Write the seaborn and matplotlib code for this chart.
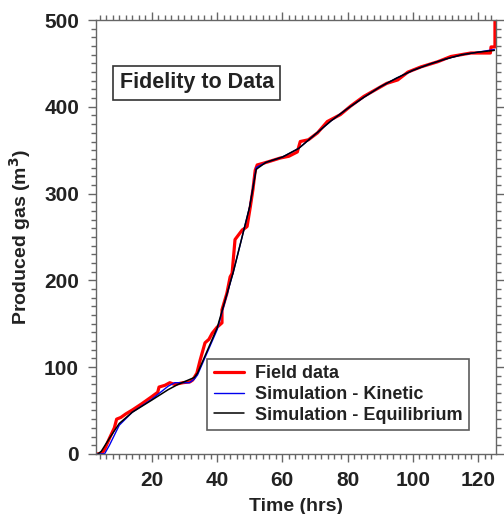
import numpy as np
import pandas as pd
import matplotlib
matplotlib.use('Agg')
import matplotlib.pyplot as plt
from matplotlib.ticker import MultipleLocator
import seaborn as sns

sns.set_style('ticks')
plt.rcParams['font.family'] = ['Liberation Sans', 'DejaVu Sans']
plt.rcParams['font.weight'] = 'bold'

# field data (red)
field_t = [2.8, 4.6, 5.5, 7.0, 8.5, 9.2, 10.5, 12.0, 14.2, 17.0, 20.0, 21.8, 22.2, 24.0,
           25.5, 27.0, 29.5, 31.7, 32.5, 33.8, 34.8, 35.7, 36.3, 37.5, 38.5, 40.0, 41.5,
           41.5, 43.0, 44.0, 44.6, 45.5, 47.7, 48.5, 49.2, 50.2, 51.0, 51.7, 52.3, 54.2,
           56.0, 59.4, 62.0, 64.6, 65.5, 68.0, 70.8, 73.8, 77.8, 81.0, 85.0, 89.2, 92.0,
           95.4, 98.5, 102.5, 107.7, 111.7, 117.8, 123.8, 124.0, 125.2, 125.2]
field_gas = [0, 0, 5, 18, 30, 40, 42, 46, 51, 58, 66, 71, 77, 79,
             82, 80, 82, 83, 85, 93, 108, 120, 128, 132, 139, 146, 151,
             166, 185, 204, 208, 247, 258, 260, 262, 285, 305, 327, 333, 335,
             337, 341, 343, 348, 360, 362, 370, 383, 391, 401, 412, 421, 427,
             431, 440, 446, 452, 458, 462, 462, 469, 469, 500]

# simulation - kinetic (blue)
kin_t = [2.8, 5.5, 7.0, 10.0, 14.0, 20.0, 25.0, 27.0, 31.5, 33.0, 34.0, 40.0, 45.0,
         50.0, 52.0, 55.0, 60.0, 65.0, 70.0, 75.0, 80.0, 85.0, 90.0, 95.0, 100.0,
         105.0, 110.0, 115.0, 120.0, 125.0]
kin_gas = [0, 0, 10, 33, 48, 63, 78, 82, 82, 86, 91, 143, 210,
           285, 330, 336, 342, 352, 368, 384, 398, 411, 423, 433, 442,
           449, 455, 460, 463, 466]

# simulation - equilibrium (black)
eq_t = [3.5, 4.5, 7.0, 10.0, 14.0, 20.0, 25.0, 28.0, 33.0, 34.0, 40.0, 45.0, 50.0,
        52.0, 55.0, 60.0, 65.0, 70.0, 75.0, 80.0, 85.0, 90.0, 95.0, 100.0, 105.0,
        110.0, 115.0, 120.0, 125.0]
eq_gas = [0, 3, 18, 35, 48, 62, 74, 80, 88, 93, 145, 210, 285,
          328, 336, 342, 352, 368, 384, 398, 411, 423, 433, 442, 449,
          455, 460, 463, 465]

fig = plt.figure(figsize=(5.04, 5.14), dpi=100)
ax = fig.add_axes([0.190, 0.117, 0.794, 0.844])

sns.lineplot(x=field_t, y=field_gas, ax=ax, color='#ff0000', lw=2.3, sort=False,
             estimator=None, label='Field data')
sns.lineplot(x=kin_t, y=kin_gas, ax=ax, color='#0000ee', lw=1.0, sort=False,
             estimator=None, label='Simulation - Kinetic')
sns.lineplot(x=eq_t, y=eq_gas, ax=ax, color='black', lw=1.1, sort=False,
             estimator=None, label='Simulation - Equilibrium')

ax.set_xlim(2.8, 125.5)
ax.set_ylim(0, 500)
ax.xaxis.set_major_locator(MultipleLocator(20))
ax.xaxis.set_minor_locator(MultipleLocator(2))
ax.yaxis.set_major_locator(MultipleLocator(100))
ax.yaxis.set_minor_locator(MultipleLocator(10))

gray = '#666666'
for s in ax.spines.values():
    s.set_visible(True)
    s.set_color(gray)
    s.set_linewidth(1.0)
ax.tick_params(which='both', direction='out', top=True, right=True, color=gray,
               labelsize=15, width=1.0, pad=6)
ax.tick_params(which='major', length=6)
ax.tick_params(which='minor', length=3.5)
for lab in ax.get_xticklabels() + ax.get_yticklabels():
    lab.set_fontweight('bold')
    lab.set_color('#222222')

ax.set_xlabel('Time (hrs)', fontsize=14, fontweight='bold', color='#222222', labelpad=6)
ax.set_ylabel('Produced gas (m$^{\\mathbf{3}}$)', fontsize=14, fontweight='bold',
              color='#222222', labelpad=8)

ax.text(0.06, 0.855, 'Fidelity to Data', transform=ax.transAxes, fontsize=15.5,
        fontweight='bold', color='#222222', va='center', ha='left',
        bbox=dict(boxstyle='square,pad=0.3', fc='white', ec='#333333', lw=1.2))

leg = ax.legend(loc='lower right', bbox_to_anchor=(0.933, 0.055), borderaxespad=0,
                frameon=True, fancybox=False, edgecolor='#333333', fontsize=13,
                handlelength=1.7, handletextpad=0.6, borderpad=0.35, labelspacing=0.2)
leg.get_frame().set_linewidth(1.2)
for t in leg.get_texts():
    t.set_fontweight('bold')
    t.set_color('#222222')

fig.savefig('out.png', dpi=100)
